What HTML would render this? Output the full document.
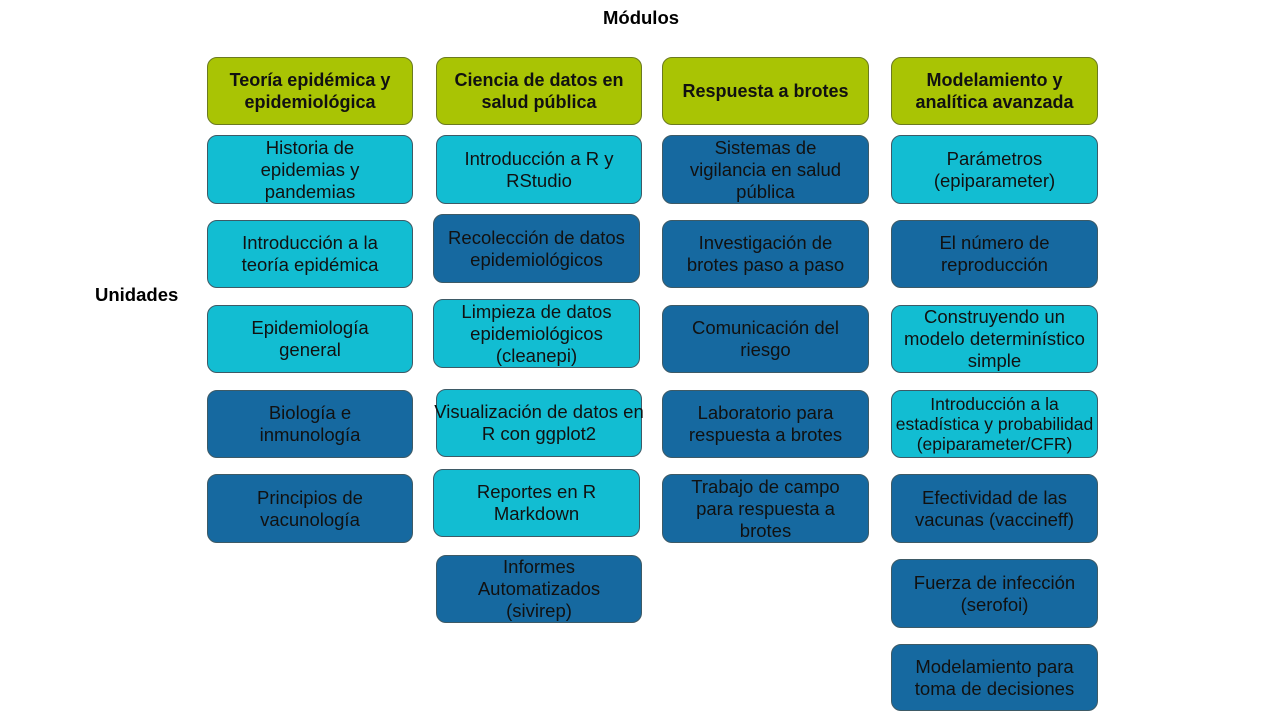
<!DOCTYPE html>
<html><head><meta charset="utf-8"><style>
body{margin:0;width:1280px;height:720px;background:#fff;position:relative;overflow:hidden;font-family:"Liberation Sans",sans-serif;color:#111}
.b{position:absolute;box-sizing:border-box;border:1px solid #3d5a66;border-radius:10px;display:flex;align-items:center;justify-content:center;text-align:center;font-size:18.5px;line-height:22px;}
.b span{display:inline-block;white-space:nowrap}
.g{background:#a9c404;font-weight:bold;font-size:18px;border-color:#6b7a20}
.c{background:#12bdd2}
.d{background:#1669a0}
.t{position:absolute;font-weight:bold;font-size:18.5px;color:#000}
</style></head><body>
<div class="t" style="left:603px;top:7px">Módulos</div>
<div class="t" style="left:95px;top:284px">Unidades</div>

<div class="b g" style="left:207px;top:57px;width:206px;height:68px"><span>Teoría epidémica y<br>epidemiológica</span></div>
<div class="b g" style="left:436px;top:57px;width:206px;height:68px"><span>Ciencia de datos en<br>salud pública</span></div>
<div class="b g" style="left:662px;top:57px;width:207px;height:68px"><span>Respuesta a brotes</span></div>
<div class="b g" style="left:891px;top:57px;width:207px;height:68px"><span>Modelamiento y<br>analítica avanzada</span></div>

<div class="b c" style="left:207px;top:135px;width:206px;height:69px"><span>Historia de<br>epidemias y<br>pandemias</span></div>
<div class="b c" style="left:207px;top:220px;width:206px;height:68px"><span>Introducción a la<br>teoría epidémica</span></div>
<div class="b c" style="left:207px;top:305px;width:206px;height:68px"><span>Epidemiología<br>general</span></div>
<div class="b d" style="left:207px;top:390px;width:206px;height:68px"><span>Biología e<br>inmunología</span></div>
<div class="b d" style="left:207px;top:474px;width:206px;height:69px"><span>Principios de<br>vacunología</span></div>

<div class="b c" style="left:436px;top:135px;width:206px;height:69px"><span>Introducción a R y<br>RStudio</span></div>
<div class="b d" style="left:433px;top:214px;width:207px;height:69px"><span>Recolección de datos<br>epidemiológicos</span></div>
<div class="b c" style="left:433px;top:299px;width:207px;height:69px"><span>Limpieza de datos<br>epidemiológicos<br>(cleanepi)</span></div>
<div class="b c" style="left:436px;top:389px;width:206px;height:68px"><span>Visualización de datos en<br>R con ggplot2</span></div>
<div class="b c" style="left:433px;top:469px;width:207px;height:68px"><span>Reportes en R<br>Markdown</span></div>
<div class="b d" style="left:436px;top:555px;width:206px;height:68px"><span>Informes<br>Automatizados<br>(sivirep)</span></div>

<div class="b d" style="left:662px;top:135px;width:207px;height:69px"><span>Sistemas de<br>vigilancia en salud<br>pública</span></div>
<div class="b d" style="left:662px;top:220px;width:207px;height:68px"><span>Investigación de<br>brotes paso a paso</span></div>
<div class="b d" style="left:662px;top:305px;width:207px;height:68px"><span>Comunicación del<br>riesgo</span></div>
<div class="b d" style="left:662px;top:390px;width:207px;height:68px"><span>Laboratorio para<br>respuesta a brotes</span></div>
<div class="b d" style="left:662px;top:474px;width:207px;height:69px"><span>Trabajo de campo<br>para respuesta a<br>brotes</span></div>

<div class="b c" style="left:891px;top:135px;width:207px;height:69px"><span>Parámetros<br>(epiparameter)</span></div>
<div class="b d" style="left:891px;top:220px;width:207px;height:68px"><span>El número de<br>reproducción</span></div>
<div class="b c" style="left:891px;top:305px;width:207px;height:68px"><span>Construyendo un<br>modelo determinístico<br>simple</span></div>
<div class="b c" style="left:891px;top:390px;width:207px;height:68px;font-size:17.5px;line-height:20px"><span>Introducción a la<br>estadística y probabilidad<br>(epiparameter/CFR)</span></div>
<div class="b d" style="left:891px;top:474px;width:207px;height:69px"><span>Efectividad de las<br>vacunas (vaccineff)</span></div>
<div class="b d" style="left:891px;top:559px;width:207px;height:69px"><span>Fuerza de infección<br>(serofoi)</span></div>
<div class="b d" style="left:891px;top:644px;width:207px;height:67px"><span>Modelamiento para<br>toma de decisiones</span></div>
</body></html>
